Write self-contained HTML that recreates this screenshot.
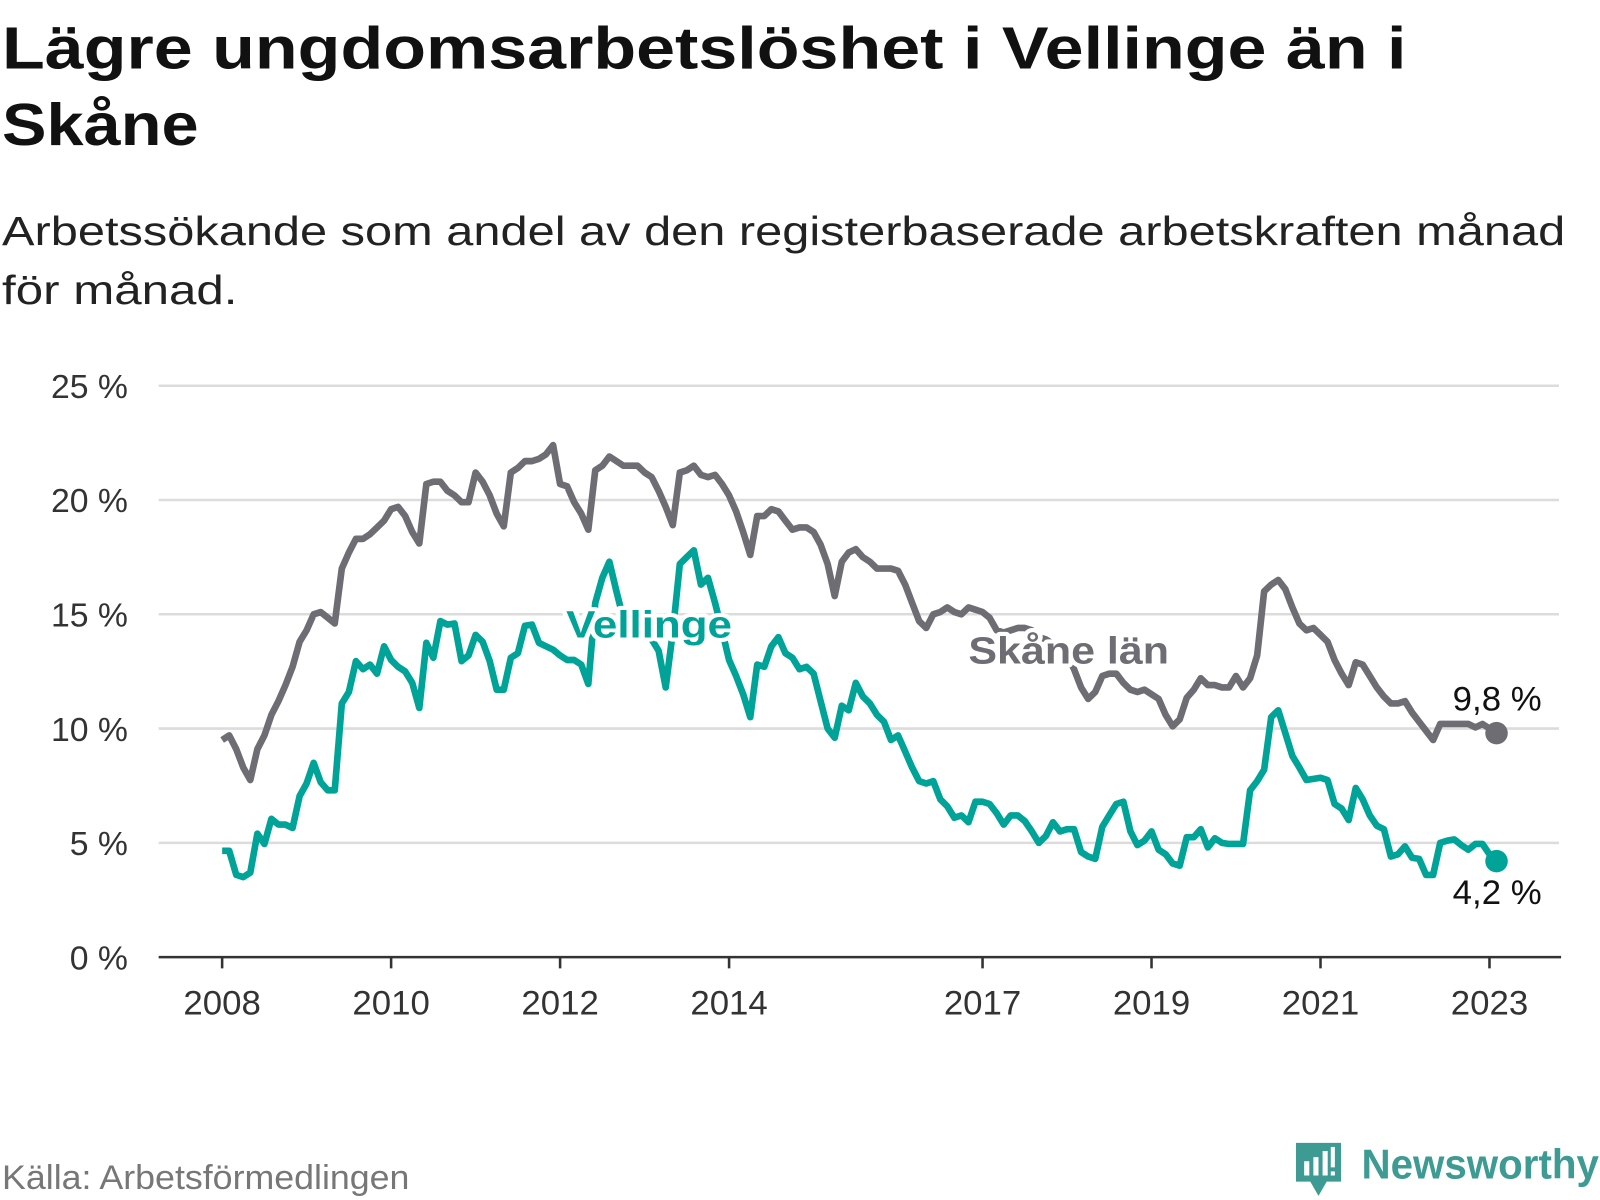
<!DOCTYPE html>
<html><head><meta charset="utf-8"><style>
html,body{margin:0;padding:0;background:#fff;}
svg{display:block;font-family:"Liberation Sans",sans-serif;}
</style></head><body>
<svg id="chart" width="1600" height="1200" viewBox="0 0 1563 1176" preserveAspectRatio="none" xmlns="http://www.w3.org/2000/svg">
<text x="2" y="67" font-size="58" font-weight="bold" fill="#111" textLength="1372" lengthAdjust="spacingAndGlyphs">Lägre ungdomsarbetslöshet i Vellinge än i</text>
<text x="2" y="142" font-size="58" font-weight="bold" fill="#111" textLength="192" lengthAdjust="spacingAndGlyphs">Skåne</text>
<text x="2" y="240" font-size="40" fill="#222" textLength="1527" lengthAdjust="spacingAndGlyphs">Arbetssökande som andel av den registerbaserade arbetskraften månad</text>
<text x="2" y="298" font-size="40" fill="#222" textLength="230" lengthAdjust="spacingAndGlyphs">för månad.</text>
<g id="grid"></g><g id="axes"></g><g id="series"></g><g id="labels"></g>
<text x="2" y="1165" font-size="34" fill="#777" textLength="398" lengthAdjust="spacingAndGlyphs">Källa: Arbetsförmedlingen</text>
<g>
<path d="M1266 1120 h44 v38 h-14 l-8 14 l-8 -14 h-14 z" fill="#3d9b93"/>
<rect x="1274" y="1138" width="5" height="14" fill="#fff"/><rect x="1283" y="1134" width="5" height="18" fill="#fff"/><rect x="1292" y="1128" width="5" height="24" fill="#fff"/><rect x="1300" y="1124" width="4" height="20" fill="#fff"/><rect x="1300" y="1148" width="4" height="4" fill="#fff"/>
<text x="1330" y="1155" font-size="41" font-weight="bold" fill="#3d9b93" textLength="232" lengthAdjust="spacingAndGlyphs">Newsworthy</text>
</g>
</svg>
<script>
const yTicks = [0, 5, 10, 15, 20, 25];
const xTickYears = [2008, 2010, 2012, 2014, 2017, 2019, 2021, 2023];
const skane = [9.5,9.7,9.1,8.3,7.75,9.1,9.7,10.6,11.2,11.9,12.7,13.8,14.3,15.0,15.1,14.85,14.6,17.0,17.7,18.3,18.3,18.5,18.8,19.1,19.6,19.7,19.3,18.6,18.1,20.7,20.8,20.8,20.4,20.2,19.9,19.9,21.2,20.8,20.2,19.4,18.85,21.2,21.4,21.7,21.7,21.8,22.0,22.4,20.7,20.6,19.9,19.4,18.7,21.3,21.5,21.9,21.7,
21.5,21.5,21.5,21.2,21.0,20.4,19.7,18.9,21.2,21.3,21.5,21.1,21.0,21.1,20.7,20.2,19.5,18.6,17.6,19.3,19.3,19.6,19.5,19.1,18.7,18.8,18.8,18.6,18.05,17.2,15.8,17.3,17.7,17.85,17.5,17.3,17.0,17.0,17.0,16.9,16.3,15.5,14.7,14.4,15.0,15.1,15.3,15.1,15.0,15.3,15.2,15.1,14.85,
14.3,14.2,14.3,14.4,14.4,14.3,14.0,13.9,13.7,13.5,13.2,12.6,
11.8,11.3,11.6,12.3,12.4,12.4,12.0,11.7,11.6,11.7,11.5,11.3,10.6,10.1,10.4,11.35,11.7,12.2,11.9,11.9,11.8,11.8,12.3,11.8,12.2,13.2,16.0,16.3,16.5,16.1,15.3,14.6,14.3,14.4,14.1,13.8,13.0,12.4,11.9,12.9,12.8,12.3,11.8,11.4,11.1,11.1,11.2,10.7,10.3,9.9,9.5,10.2,10.2,10.2,10.2,10.2,10.05,10.2,10.0,9.8];
const vellinge = [4.65,4.65,3.6,3.5,3.7,5.4,4.95,6.05,5.8,5.8,5.65,7.05,7.6,8.5,7.65,7.3,7.3,11.1,11.6,12.95,12.6,12.8,12.4,13.6,13.0,12.7,12.5,12.0,10.9,13.75,13.1,14.7,14.55,14.6,12.95,13.2,14.1,13.8,12.95,11.7,11.7,13.1,13.3,14.5,14.55,13.75,13.6,13.45,13.2,13.0,13.0,12.8,11.95,15.5,16.6,17.3,
16.0,14.8,14.3,14.0,14.2,13.9,13.4,11.8,14.2,17.2,17.5,17.8,16.3,16.6,15.5,14.3,13.0,12.3,11.5,10.5,12.8,12.7,13.6,14.0,13.3,13.1,12.6,12.7,12.4,11.2,10.0,9.6,11.0,10.8,12.0,11.4,11.1,10.6,10.3,9.5,9.7,9.0,8.3,7.7,7.6,7.7,6.9,6.6,6.1,6.2,5.9,6.8,6.8,6.7,6.3,5.8,6.2,
6.2,5.95,5.5,5.0,5.3,5.9,5.5,5.6,5.6,4.6,4.4,4.3,5.7,6.2,6.7,6.8,5.5,4.9,5.1,5.5,4.7,4.5,4.1,4.0,5.25,5.25,5.6,4.8,5.2,5.0,4.95,4.95,4.95,7.3,7.7,8.2,10.5,10.8,9.8,8.8,8.3,7.75,7.8,7.85,7.75,6.7,6.5,6.0,7.4,6.9,6.2,5.75,5.6,4.4,4.5,4.85,4.35,4.3,3.6,3.6,5.0,5.1,5.15,4.9,4.7,4.95,4.95,4.5,4.2];
const startYear = 2008;

const NS = "http://www.w3.org/2000/svg";
const X0 = 217, MONTH = 6.878, Y0 = 938, PER = 22.4;
function x(m){ return X0 + m*MONTH; }
function xYear(yr){ return x((yr-startYear)*12); }
function y(v){ return Y0 - v*PER; }
function mk(tag, attrs, parent){ const e=document.createElementNS(NS,tag); for(const k in attrs) e.setAttribute(k,attrs[k]); parent.appendChild(e); return e; }
const grid=document.getElementById('grid'), axes=document.getElementById('axes'), series=document.getElementById('series'), labels=document.getElementById('labels');

yTicks.forEach(t=>{
  if(t>0){
    const l=mk('line',{x1:155,x2:1523,y1:y(t),y2:y(t),stroke:'#dcdcdc','stroke-width':2.5},grid);
    
    
  }
  const tx=mk('text',{x:125,y:y(t)+12,'text-anchor':'end','font-size':33,fill:'#333'},axes);
  tx.textContent=t+' %';
  
  
});
const ax=mk('line',{x1:155,x2:1525,y1:Y0,y2:Y0,stroke:'#333','stroke-width':2.5},axes);


xTickYears.forEach(yr=>{
  const tk=mk('line',{x1:xYear(yr),x2:xYear(yr),y1:Y0,y2:Y0+11,stroke:'#333','stroke-width':2.5},axes);
  
  
  const tx=mk('text',{x:xYear(yr),y:994,'text-anchor':'middle','font-size':34,fill:'#333'},axes);
  tx.textContent=yr;
  
  
});

function drawLine(vals,color,name){
  const d=vals.map((v,i)=>(i?'L':'M')+x(i).toFixed(1)+' '+y(v).toFixed(1)).join(' ');
  const p=mk('path',{d:d,fill:'none',stroke:color,'stroke-width':6.5,'stroke-linejoin':'round','stroke-linecap':'butt'},series);
  
  
  const n=vals.length-1;
  const c=mk('circle',{cx:x(n),cy:y(vals[n]),r:11,fill:color},series);
  
  
}
drawLine(skane,'#6e6d73','skane');
drawLine(vellinge,'#00a398','vellinge');

const vl=mk('text',{x:553,y:625,'font-size':37,'font-weight':'bold',fill:'#00a398',stroke:'#fff','stroke-width':8,'paint-order':'stroke','stroke-linejoin':'round',textLength:162,lengthAdjust:'spacingAndGlyphs'},labels);
vl.textContent='Vellinge';


const sl=mk('text',{x:946,y:650,'font-size':37,'font-weight':'bold',fill:'#6e6d73',stroke:'#fff','stroke-width':8,'paint-order':'stroke','stroke-linejoin':'round',textLength:196,lengthAdjust:'spacingAndGlyphs'},labels);
sl.textContent='Skåne län';


const n=skane.length-1;
const sv=mk('text',{x:1506,y:y(skane[n])-22,'text-anchor':'end','font-size':34,fill:'#111'},labels);
sv.textContent=String(skane[n]).replace('.',',')+' %';


const vv=mk('text',{x:1506,y:y(vellinge[n])+42,'text-anchor':'end','font-size':34,fill:'#111'},labels);
vv.textContent=String(vellinge[n]).replace('.',',')+' %';


</script>
</body></html>
